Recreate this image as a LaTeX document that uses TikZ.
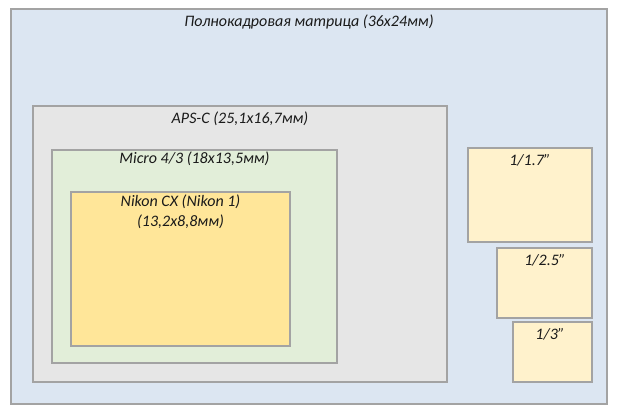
\documentclass[tikz,border=0pt]{standalone}
\usepackage{fontspec}
\setmainfont{Carlito}
\usepackage{tikz}
\usepackage{xcolor}

\definecolor{fullblue}{HTML}{DCE6F2}
\definecolor{apsgray}{HTML}{E6E6E6}
\definecolor{microgreen}{HTML}{E2EED9}
\definecolor{cxyellow}{HTML}{FFE699}
\definecolor{smallcream}{HTML}{FFF2CC}
\definecolor{rimgray}{HTML}{A3A3A3}
\definecolor{inkgray}{HTML}{1A1A1A}

\tikzset{
	sensorbox/.style={draw=rimgray, line width=1pt},
	sizelabel/.style={text=inkgray, font=\fontsize{12}{15}\selectfont\itshape, inner sep=0pt, align=center}
}

\begin{document}
\begin{tikzpicture}[x=0.75pt, y=-0.75pt]
	\useasboundingbox (0,0) rectangle (620,415);
	\fill[white] (0,0) rectangle (620,415);
	% full frame and the nested crops
	\draw[sensorbox, fill=fullblue] (11,9) rectangle (607,404);
	\draw[sensorbox, fill=apsgray] (33,106) rectangle (447,382);
	\draw[sensorbox, fill=microgreen] (52,150) rectangle (337,363);
	\draw[sensorbox, fill=cxyellow] (71,192) rectangle (290,346);
	% compact sensors
	\draw[sensorbox, fill=smallcream] (468,148) rectangle (592,242);
	\draw[sensorbox, fill=smallcream] (497,248) rectangle (592,318);
	\draw[sensorbox, fill=smallcream] (513,322) rectangle (592,382);
	\node[sizelabel] (fulltitle) at (309,22) {Полнокадровая матрица (36x24мм)};
	\node[sizelabel] (apstitle) at (240,119) {APS-C (25,1x16,7мм)};
	\node[sizelabel] (microtitle) at (194.5,159) {Micro 4/3 (18x13,5мм)};
	\node[sizelabel] (cxtitle) at (180.5,212) {Nikon CX (Nikon 1)\\(13,2x8,8мм)};
	\node[sizelabel] (onetwo) at (530,160) {1/1.7”};
	\node[sizelabel] (onetwofive) at (545,260) {1/2.5”};
	\node[sizelabel] (onethree) at (550,334) {1/3”};
\end{tikzpicture}
\end{document}
